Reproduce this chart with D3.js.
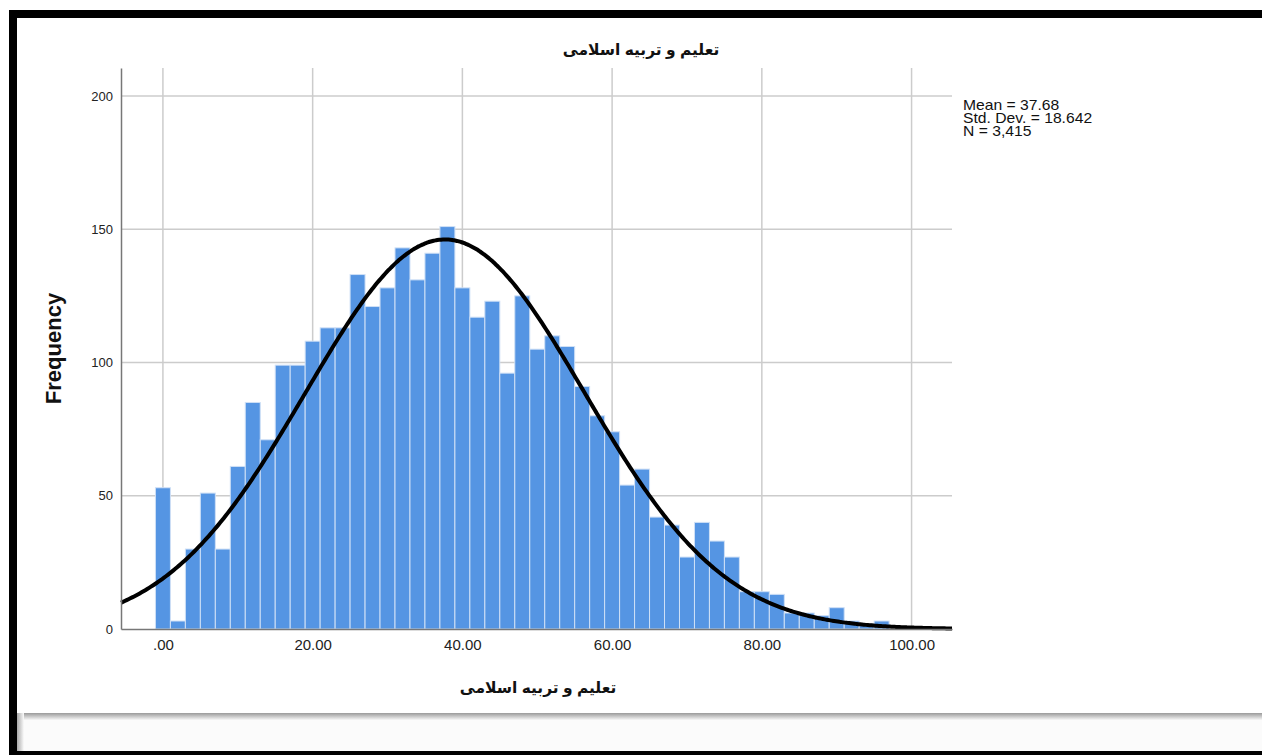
<!DOCTYPE html>
<html>
<head>
<meta charset="utf-8">
<script src="https://cdn.jsdelivr.net/npm/d3@7"></script>
<style>
  html, body { margin: 0; padding: 0; background: #ffffff; }
  svg { display: block; }
  text { font-family: "Liberation Sans", Arial, "DejaVu Sans", sans-serif; }
</style>
</head>
<body>
<svg id="chart" width="1262" height="755"></svg>
<script>
// ---- data ----
const chartTitle = "تعليم و تربيه اسلامی";
const xAxisTitle = "تعليم و تربيه اسلامی";
const yAxisTitle = "Frequency";
const binCenters = [0, 2, 4, 6, 8, 10, 12, 14, 16, 18,
                    20, 22, 24, 26, 28, 30, 32, 34, 36, 38,
                    40, 42, 44, 46, 48, 50, 52, 54, 56, 58,
                    60, 62, 64, 66, 68, 70, 72, 74, 76, 78,
                    80, 82, 84, 86, 88, 90, 92, 94, 96, 98];
const frequencies = [53, 3, 30, 51, 30, 61, 85, 71, 99, 99,
                     108, 113, 113, 133, 121, 128, 143, 131, 141, 151,
                     128, 117, 123, 96, 125, 105, 110, 106, 91, 80,
                     74, 54, 60, 42, 39, 27, 40, 33, 27, 14,
                     14, 13, 6, 6, 5, 8, 3, 2, 3, 0];
const binWidth = 2;
const xTickValues = [0, 20, 40, 60, 80, 100];
const xTickLabels = [".00", "20.00", "40.00", "60.00", "80.00", "100.00"];
const yTickValues = [0, 50, 100, 150, 200];
const statMean = 37.68;
const statSD = 18.642;
const statN = 3415;
const statLines = ["Mean = 37.68", "Std. Dev. = 18.642", "N = 3,415"];

// ---- drawing ----
(function draw() {
const svg = d3.select("#chart");

// frame
const defs = svg.append("defs");
const grad = defs.append("linearGradient").attr("id", "shade").attr("x1", 0).attr("y1", 0).attr("x2", 0).attr("y2", 1);
grad.append("stop").attr("offset", "0%").attr("stop-color", "#9a9a9a");
grad.append("stop").attr("offset", "100%").attr("stop-color", "#f8f8f8");
const gradL = defs.append("linearGradient").attr("id", "shadeL").attr("x1", 0).attr("y1", 0).attr("x2", 1).attr("y2", 0);
gradL.append("stop").attr("offset", "0%").attr("stop-color", "#a8a8a8");
gradL.append("stop").attr("offset", "100%").attr("stop-color", "#fbfbfb");

svg.append("rect").attr("x", 17).attr("y", 713).attr("width", 1245).attr("height", 38).attr("fill", "#fbfbfb");
svg.append("rect").attr("x", 17).attr("y", 713).attr("width", 1245).attr("height", 7).attr("fill", "url(#shade)");
svg.append("rect").attr("x", 17).attr("y", 713).attr("width", 7).attr("height", 38).attr("fill", "url(#shadeL)");
svg.append("rect").attr("x", 9).attr("y", 10).attr("width", 1253).attr("height", 8).attr("fill", "#000");
svg.append("rect").attr("x", 9).attr("y", 10).attr("width", 8).attr("height", 745).attr("fill", "#000");
svg.append("rect").attr("x", 9).attr("y", 751).attr("width", 1253).attr("height", 4).attr("fill", "#000");

const pLeft = 121, pRight = 952, pTop = 68, pBottom = 629;
const x = d3.scaleLinear().domain([-5.6, 105.4]).range([pLeft, pRight]);
const y = d3.scaleLinear().domain([0, 210.5]).range([pBottom, pTop]);

// gridlines
svg.append("g").selectAll("line").data(yTickValues.filter(v => v > 0)).join("line")
  .attr("x1", pLeft).attr("x2", pRight)
  .attr("y1", d => y(d)).attr("y2", d => y(d))
  .attr("stroke", "#cccccc").attr("stroke-width", 1.5);
svg.append("g").selectAll("line").data(xTickValues).join("line")
  .attr("x1", d => x(d)).attr("x2", d => x(d))
  .attr("y1", pTop).attr("y2", pBottom)
  .attr("stroke", "#cccccc").attr("stroke-width", 1.5);

// bars
svg.append("g").selectAll("rect").data(binCenters.map((c, i) => ({c, f: frequencies[i]})).filter(d => d.f > 0)).join("rect")
  .attr("x", d => x(d.c - binWidth / 2))
  .attr("width", d => x(d.c + binWidth / 2) - x(d.c - binWidth / 2))
  .attr("y", d => y(d.f))
  .attr("height", d => y(0) - y(d.f))
  .attr("fill", "#5595e3")
  .attr("stroke", "#cfe0f6")
  .attr("stroke-width", 1);

// normal curve from stated mean / sd / n
const curvePts = d3.range(-5.6, 105.41, 0.25).map(v => {
  const z = (v - statMean) / statSD;
  return [v, statN * binWidth * Math.exp(-0.5 * z * z) / (statSD * Math.sqrt(2 * Math.PI))];
});
svg.append("path").datum(curvePts)
  .attr("d", d3.line().x(d => x(d[0])).y(d => y(d[1])).curve(d3.curveBasis))
  .attr("fill", "none").attr("stroke", "#000").attr("stroke-width", 4);

// axes
const yAxis = d3.axisLeft(y).tickValues(yTickValues).tickSize(0).tickPadding(8).tickFormat(d3.format("d"));
const gy = svg.append("g").attr("transform", `translate(${pLeft},0)`).call(yAxis);
gy.select(".domain").attr("stroke", "#777").attr("stroke-width", 1.5);
gy.selectAll("text").attr("font-size", 13).attr("fill", "#222")
  .attr("font-family", "'Liberation Sans', Arial, sans-serif");

const xAxis = d3.axisBottom(x).tickValues(xTickValues).tickSize(0).tickPadding(10)
  .tickFormat((d, i) => xTickLabels[i]);
const gx = svg.append("g").attr("transform", `translate(0,${pBottom})`).call(xAxis);
gx.select(".domain").attr("stroke", "#777").attr("stroke-width", 1.5);
gx.selectAll("text").attr("font-size", 15).attr("fill", "#222")
  .attr("font-family", "'Liberation Sans', Arial, sans-serif");

// titles
svg.append("text").attr("x", 641).attr("y", 55).attr("text-anchor", "middle")
  .attr("font-size", 15.5).attr("font-weight", "bold").attr("fill", "#111")
  .attr("direction", "rtl").text(chartTitle);
svg.append("text").attr("x", 538).attr("y", 693).attr("text-anchor", "middle")
  .attr("font-size", 15.5).attr("font-weight", "bold").attr("fill", "#111")
  .attr("direction", "rtl").text(xAxisTitle);
svg.append("text").attr("transform", `translate(61,${(pTop + pBottom) / 2}) rotate(-90)`)
  .attr("text-anchor", "middle").attr("font-size", 22).attr("font-weight", "bold").attr("fill", "#111")
  .text(yAxisTitle);

// stats
svg.append("g").attr("transform", "translate(963,0) scale(1.12,1)")
  .selectAll("text").data(statLines).join("text")
  .attr("x", 0).attr("y", (d, i) => 110 + i * 13)
  .attr("font-size", 14).attr("fill", "#111").text(d => d);
})();
</script>
</body>
</html>
